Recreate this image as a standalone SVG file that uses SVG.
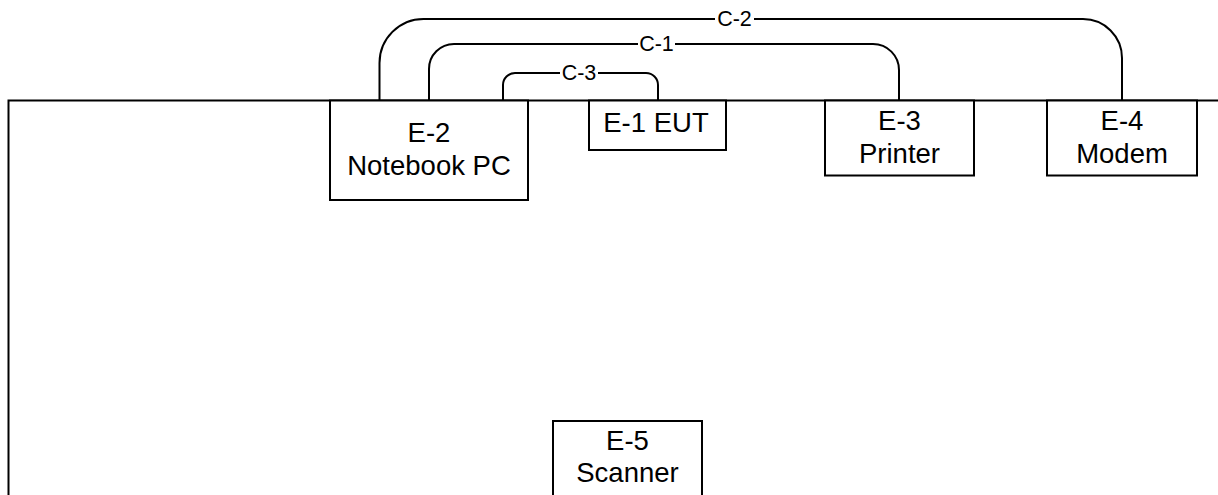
<svg xmlns="http://www.w3.org/2000/svg" width="1218" height="495" viewBox="0 0 1218 495">
<style>
.box{fill:#fff;stroke:#000;stroke-width:2}
.t{font-family:"Liberation Sans",Arial,sans-serif;font-size:27.5px;fill:#000;text-anchor:middle}
.lbl{font-family:"Liberation Sans",Arial,sans-serif;font-size:21.5px;fill:#000;text-anchor:middle}
.w{stroke:#000;stroke-width:2;fill:none}
.bg{fill:#fff}
</style>
<rect width="1218" height="495" fill="#fff"/>
<g id="connectors">
<path class="w" d="M8.5,495 V100.5 H1218"/>
<path class="w" d="M379.5,100.5 V63 A44,44 0 0 1 423.5,19 H1083 A39,39 0 0 1 1122,58 V100.5"/>
<path class="w" d="M429,100.5 V69 A25,25 0 0 1 454,44 H873 A26,26 0 0 1 899,70 V100.5"/>
<path class="w" d="M503,100.5 V85 A12,12 0 0 1 515,73 H646 A12,12 0 0 1 658,85 V100.5"/>
<rect class="bg" x="715" y="9" width="39" height="20"/>
<text class="lbl" x="734.5" y="25.5">C-2</text>
<rect class="bg" x="638" y="34" width="37" height="20"/>
<text class="lbl" x="656.5" y="51">C-1</text>
<rect class="bg" x="560" y="63" width="38" height="20"/>
<text class="lbl" x="579" y="80">C-3</text>
</g>
<g id="E-2">
<rect class="box" x="330" y="100.5" width="198" height="99.5"/>
<text class="t" x="429" y="142">E-2</text>
<text class="t" x="429" y="175">Notebook PC</text>
</g>
<g id="E-1">
<rect class="box" x="589" y="100.5" width="137" height="49.5"/>
<text class="t" x="656" y="132">E-1 EUT</text>
</g>
<g id="E-3">
<rect class="box" x="825" y="100.5" width="149" height="75"/>
<text class="t" x="899.5" y="130">E-3</text>
<text class="t" x="899.5" y="163">Printer</text>
</g>
<g id="E-4">
<rect class="box" x="1047" y="100.5" width="150" height="75"/>
<text class="t" x="1122" y="130">E-4</text>
<text class="t" x="1122" y="163">Modem</text>
</g>
<g id="E-5">
<rect class="box" x="553" y="421" width="149" height="80"/>
<text class="t" x="627.5" y="450">E-5</text>
<text class="t" x="627.5" y="482">Scanner</text>
</g>
</svg>
